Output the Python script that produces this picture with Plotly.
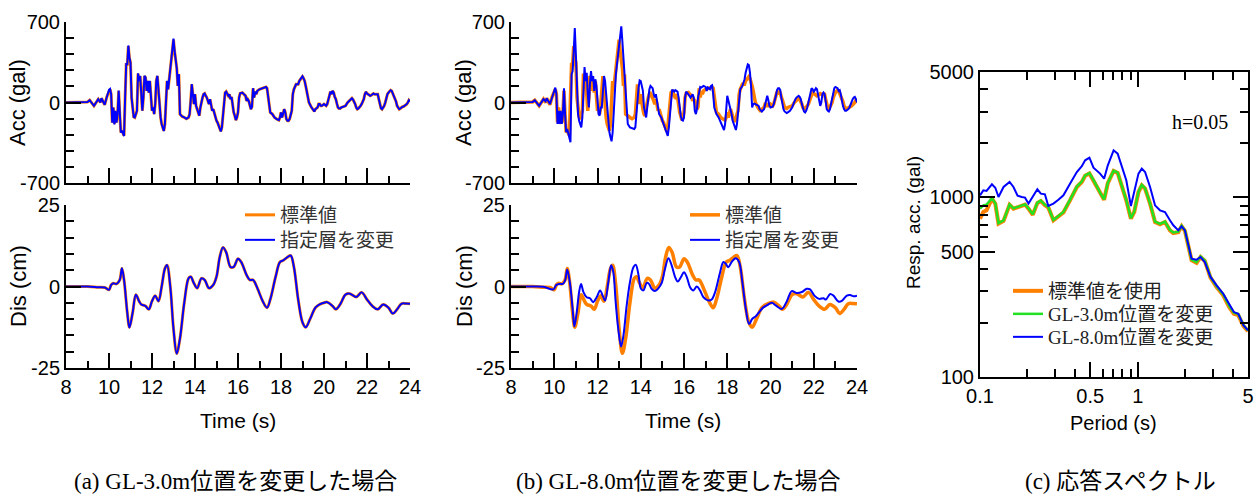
import plotly.graph_objects as go

# ---------------- time histories: (time s, value) ----------------
# standard-parameter acceleration (gal)
std_acc = [(8.0,0),(8.5,0),(9.0,5),(9.1,20),(9.3,-29),(9.5,29),(9.6,0),(9.65,37),(9.8,-20),(9.9,49),
 (10.0,107),(10.05,115),(10.1,72),(10.15,-173),(10.2,-43),(10.25,-187),(10.3,-72),(10.35,-173),(10.4,-101),(10.45,101),
 (10.5,-101),(10.55,-259),(10.6,-245),(10.65,-274),(10.7,-288),(10.75,43),(10.8,331),(10.85,331),(10.9,490),(10.95,389),
 (11.0,346),(11.05,43),(11.1,-72),(11.15,-124),(11.2,-130),(11.3,-72),(11.35,251),(11.4,187),(11.45,230),(11.5,101),
 (11.55,-72),(11.6,43),(11.65,230),(11.7,216),(11.75,101),(11.8,187),(11.85,86),(11.9,187),(11.95,14),(12.0,-72),
 (12.05,-43),(12.1,-101),(12.15,-14),(12.2,187),(12.25,230),(12.3,101),(12.35,-43),(12.4,-130),(12.45,-187),(12.5,-216),
 (12.55,-245),(12.6,-187),(12.65,14),(12.7,187),(12.75,115),(12.8,202),(12.85,245),(12.9,331),(12.95,418),(13.0,547),
 (13.05,446),(13.1,360),(13.15,302),(13.2,144),(13.25,245),(13.3,-101),(13.4,-121),(13.5,-130),(13.6,-141),(13.7,-130),
 (13.75,-101),(13.8,14),(13.85,158),(13.9,72),(13.95,-14),(14.0,72),(14.05,-29),(14.1,-58),(14.15,-101),(14.2,-115),
 (14.25,-43),(14.3,14),(14.35,43),(14.4,72),(14.45,78),(14.5,58),(14.55,43),(14.6,14),(14.65,-14),(14.7,29),
 (14.75,-14),(14.8,-72),(14.85,-58),(14.9,-101),(14.95,-130),(15.0,-158),(15.05,-173),(15.1,-202),(15.15,-230),(15.2,-250),
 (15.25,-216),(15.3,-101),(15.35,29),(15.4,86),(15.45,95),(15.5,72),(15.55,58),(15.6,72),(15.65,29),(15.7,49),
 (15.75,-43),(15.8,-86),(15.85,-115),(15.9,-153),(15.95,-130),(16.0,-85),(16.05,43),(16.1,80),(16.2,86),(16.3,72),
 (16.35,58),(16.4,14),(16.45,29),(16.5,14),(16.55,-14),(16.6,-58),(16.65,-37),(16.7,124),(16.75,43),(16.8,95),
 (16.85,72),(16.9,101),(17.0,115),(17.1,124),(17.2,130),(17.3,135),(17.35,124),(17.4,43),(17.45,-58),(17.5,-86),
 (17.6,-101),(17.7,-130),(17.8,-144),(17.9,-153),(17.95,-130),(18.0,-86),(18.05,-130),(18.1,-101),(18.15,-58),(18.2,-86),
 (18.25,-144),(18.3,-158),(18.35,-158),(18.4,-144),(18.45,-101),(18.5,-72),(18.55,72),(18.6,115),(18.7,158),(18.8,158),
 (18.85,187),(18.9,202),(18.95,216),(19.0,225),(19.05,210),(19.1,187),(19.15,144),(19.2,101),(19.25,58),(19.3,0),
 (19.4,-37),(19.5,-72),(19.55,-78),(19.6,-58),(19.7,-43),(19.75,-14),(19.8,-14),(19.85,-29),(19.9,-29),(20.0,-14),
 (20.1,-29),(20.15,-14),(20.2,14),(20.25,58),(20.3,95),(20.35,72),(20.4,101),(20.45,86),(20.5,49),(20.55,29),
 (20.6,-9),(20.65,-43),(20.7,-52),(20.75,-52),(20.8,-43),(20.9,-37),(21.0,-29),(21.1,0),(21.15,9),(21.2,20),
 (21.25,29),(21.3,37),(21.35,26),(21.4,9),(21.45,-14),(21.5,-43),(21.55,-58),(21.6,-52),(21.65,-43),(21.7,-29),
 (21.75,-14),(21.8,9),(21.85,29),(21.9,72),(21.95,92),(22.0,78),(22.05,72),(22.1,66),(22.15,58),(22.2,63),
 (22.25,72),(22.3,78),(22.35,72),(22.4,72),(22.45,78),(22.5,72),(22.55,29),(22.6,-14),(22.65,-49),(22.7,-58),
 (22.75,-43),(22.8,-29),(22.85,0),(22.9,43),(22.95,72),(23.0,86),(23.05,95),(23.1,107),(23.15,101),(23.2,78),
 (23.25,58),(23.3,43),(23.35,9),(23.4,-29),(23.45,-49),(23.5,-58),(23.55,-52),(23.6,-43),(23.65,-37),(23.7,-35),
 (23.75,-29),(23.8,-20),(23.85,-14),(23.9,0),(23.95,20),(24.0,9)]

# GL-3.0m layer changed: acceleration (gal)
a_acc = [(8.0,0),(8.5,0),(9.0,5),(9.1,20),(9.3,-29),(9.5,29),(9.6,0),(9.65,37),(9.8,-20),(9.9,49),
 (10.0,110),(10.05,118),(10.1,72),(10.15,-176),(10.2,-43),(10.25,-190),(10.3,-72),(10.35,-176),(10.4,-101),(10.45,104),
 (10.5,-101),(10.55,-262),(10.6,-245),(10.65,-277),(10.7,-292),(10.75,43),(10.8,334),(10.85,334),(10.9,496),(10.95,392),
 (11.0,346),(11.05,43),(11.1,-72),(11.15,-126),(11.2,-130),(11.3,-72),(11.35,254),(11.4,187),(11.45,233),(11.5,101),
 (11.55,-72),(11.6,43),(11.65,233),(11.7,218),(11.75,101),(11.8,189),(11.85,86),(11.9,189),(11.95,14),(12.0,-72),
 (12.05,-43),(12.1,-101),(12.15,-14),(12.2,189),(12.25,233),(12.3,101),(12.35,-43),(12.4,-130),(12.45,-189),(12.5,-218),
 (12.55,-248),(12.6,-189),(12.65,14),(12.7,189),(12.75,115),(12.8,204),(12.85,248),(12.9,334),(12.95,422),(13.0,556),
 (13.05,450),(13.1,362),(13.15,302),(13.2,144),(13.25,248),(13.3,-101),(13.4,-121),(13.5,-130),(13.6,-141),(13.7,-130),
 (13.75,-101),(13.8,14),(13.85,160),(13.9,72),(13.95,-14),(14.0,72),(14.05,-29),(14.1,-58),(14.15,-101),(14.2,-115),
 (14.25,-43),(14.3,14),(14.35,43),(14.4,72),(14.45,78),(14.5,58),(14.55,43),(14.6,14),(14.65,-14),(14.7,29),
 (14.75,-14),(14.8,-72),(14.85,-58),(14.9,-101),(14.95,-130),(15.0,-158),(15.05,-176),(15.1,-204),(15.15,-233),(15.2,-252),
 (15.25,-218),(15.3,-101),(15.35,29),(15.4,86),(15.45,95),(15.5,72),(15.55,58),(15.6,72),(15.65,29),(15.7,49),
 (15.75,-43),(15.8,-86),(15.85,-115),(15.9,-153),(15.95,-130),(16.0,-85),(16.05,43),(16.1,80),(16.2,86),(16.3,72),
 (16.35,58),(16.4,14),(16.45,29),(16.5,14),(16.55,-14),(16.6,-58),(16.65,-37),(16.7,124),(16.75,43),(16.8,95),
 (16.85,72),(16.9,101),(17.0,115),(17.1,124),(17.2,130),(17.3,135),(17.35,124),(17.4,43),(17.45,-58),(17.5,-86),
 (17.6,-101),(17.7,-130),(17.8,-144),(17.9,-153),(17.95,-130),(18.0,-86),(18.05,-130),(18.1,-101),(18.15,-58),(18.2,-86),
 (18.25,-144),(18.3,-158),(18.35,-158),(18.4,-144),(18.45,-101),(18.5,-72),(18.55,72),(18.6,115),(18.7,158),(18.8,158),
 (18.85,187),(18.9,202),(18.95,216),(19.0,228),(19.05,210),(19.1,187),(19.15,144),(19.2,101),(19.25,58),(19.3,0),
 (19.4,-37),(19.5,-72),(19.55,-78),(19.6,-58),(19.7,-43),(19.75,-14),(19.8,-14),(19.85,-29),(19.9,-29),(20.0,-14),
 (20.1,-29),(20.15,-14),(20.2,14),(20.25,58),(20.3,95),(20.35,72),(20.4,101),(20.45,86),(20.5,49),(20.55,29),
 (20.6,-9),(20.65,-43),(20.7,-52),(20.75,-52),(20.8,-43),(20.9,-37),(21.0,-29),(21.1,0),(21.15,9),(21.2,20),
 (21.25,29),(21.3,37),(21.35,26),(21.4,9),(21.45,-14),(21.5,-43),(21.55,-58),(21.6,-52),(21.65,-43),(21.7,-29),
 (21.75,-14),(21.8,9),(21.85,29),(21.9,72),(21.95,92),(22.0,78),(22.05,72),(22.1,66),(22.15,58),(22.2,63),
 (22.25,72),(22.3,78),(22.35,72),(22.4,72),(22.45,78),(22.5,72),(22.55,29),(22.6,-14),(22.65,-49),(22.7,-58),
 (22.75,-43),(22.8,-29),(22.85,0),(22.9,43),(22.95,72),(23.0,86),(23.05,95),(23.1,107),(23.15,101),(23.2,78),
 (23.25,58),(23.3,43),(23.35,9),(23.4,-29),(23.45,-49),(23.5,-58),(23.55,-52),(23.6,-43),(23.65,-37),(23.7,-35),
 (23.75,-29),(23.8,-20),(23.85,-14),(23.9,0),(23.95,20),(24.0,9)]

# GL-8.0m layer changed: acceleration (gal)
b_acc = [(8.0,0),(8.5,0),(9.0,5),(9.1,20),(9.3,-29),(9.5,29),(9.6,9),(9.65,37),(9.8,-14),(9.9,43),
 (10.0,115),(10.05,130),(10.1,72),(10.15,-187),(10.2,-72),(10.25,-187),(10.3,-72),(10.35,-187),(10.4,-101),(10.45,124),
 (10.5,-101),(10.55,-259),(10.6,-230),(10.65,-274),(10.7,-317),(10.75,-346),(10.8,245),(10.85,274),(10.9,446),(10.95,648),
 (11.0,418),(11.05,101),(11.1,-101),(11.15,-158),(11.2,-187),(11.25,-216),(11.3,-130),(11.35,72),(11.4,308),(11.45,187),
 (11.5,259),(11.55,72),(11.6,-43),(11.65,158),(11.7,274),(11.75,187),(11.8,230),(11.85,101),(11.9,202),(11.95,144),
 (12.0,-43),(12.05,-101),(12.1,-115),(12.15,-43),(12.2,-43),(12.25,101),(12.3,230),(12.35,187),(12.4,72),(12.45,-101),
 (12.5,-187),(12.55,-259),(12.6,-302),(12.65,-337),(12.7,-259),(12.75,-72),(12.8,187),(12.85,245),(12.9,331),(12.95,418),
 (13.0,475),(13.05,590),(13.1,662),(13.15,533),(13.2,389),(13.25,274),(13.3,43),(13.35,-101),(13.4,-187),(13.5,-216),
 (13.6,-222),(13.7,-230),(13.75,-216),(13.8,-101),(13.85,72),(13.9,130),(13.95,193),(14.0,187),(14.05,144),(14.1,101),
 (14.15,-43),(14.2,-101),(14.25,-130),(14.3,-43),(14.35,43),(14.4,115),(14.45,144),(14.5,135),(14.55,124),(14.6,72),
 (14.65,43),(14.7,72),(14.75,14),(14.8,-43),(14.85,-101),(14.9,-115),(14.95,-130),(15.0,-158),(15.05,-187),(15.1,-216),
 (15.15,-245),(15.2,-274),(15.25,-291),(15.3,-216),(15.35,-101),(15.4,43),(15.45,107),(15.5,107),(15.55,95),(15.6,107),
 (15.65,101),(15.7,95),(15.75,43),(15.8,-72),(15.85,-115),(15.9,-153),(15.95,-158),(16.0,-130),(16.05,43),(16.1,95),
 (16.15,86),(16.2,72),(16.3,43),(16.35,58),(16.4,72),(16.45,43),(16.5,-72),(16.55,-101),(16.6,-58),(16.65,43),
 (16.7,101),(16.75,135),(16.8,130),(16.9,144),(17.0,135),(17.05,101),(17.1,130),(17.2,115),(17.25,144),(17.3,150),
 (17.35,72),(17.4,-43),(17.45,-72),(17.5,-101),(17.6,-130),(17.7,-173),(17.8,-230),(17.85,-239),(17.9,-187),(17.95,-43),
 (18.0,58),(18.05,20),(18.1,-14),(18.15,-58),(18.2,-101),(18.25,-158),(18.3,-187),(18.35,-230),(18.4,-239),(18.45,-187),
 (18.5,-72),(18.55,43),(18.6,115),(18.7,144),(18.75,173),(18.8,202),(18.85,259),(18.9,302),(18.95,331),(19.0,325),
 (19.05,259),(19.1,144),(19.15,-43),(19.2,-14),(19.25,-9),(19.3,-14),(19.4,-20),(19.45,-29),(19.5,-58),(19.55,-72),
 (19.6,-78),(19.7,-58),(19.75,-14),(19.8,0),(19.85,58),(19.9,20),(19.95,-29),(20.0,-43),(20.05,-43),(20.1,-37),
 (20.15,-14),(20.2,14),(20.25,58),(20.3,107),(20.35,124),(20.4,124),(20.45,107),(20.5,43),(20.55,-14),(20.6,-58),
 (20.65,-78),(20.7,-86),(20.75,-92),(20.8,-86),(20.9,-72),(21.0,-43),(21.05,-14),(21.1,14),(21.15,29),(21.2,43),
 (21.3,58),(21.35,49),(21.4,29),(21.45,-14),(21.5,-58),(21.55,-78),(21.6,-86),(21.65,-72),(21.7,-43),(21.75,0),
 (21.8,58),(21.85,107),(21.9,124),(21.95,115),(22.0,95),(22.05,107),(22.1,124),(22.15,115),(22.2,72),(22.25,14),
 (22.3,-29),(22.35,0),(22.4,72),(22.45,86),(22.5,72),(22.55,14),(22.6,-58),(22.65,-72),(22.7,-78),(22.75,-58),
 (22.8,-14),(22.85,43),(22.9,95),(22.95,124),(23.0,135),(23.05,130),(23.1,124),(23.15,101),(23.2,107),(23.25,72),
 (23.3,14),(23.35,-29),(23.4,-58),(23.45,-72),(23.5,-72),(23.55,-66),(23.6,-58),(23.65,-43),(23.7,-14),(23.75,9),
 (23.8,29),(23.85,43),(23.9,49),(23.95,29),(24.0,0)]

# displacement (cm)
std_dis = [(8.0,0),(9.0,0),(9.5,-0.2),(9.8,-0.3),(10.0,-1),(10.1,0.5),(10.2,1),(10.35,0.8),(10.5,2),(10.6,5.5),
 (10.7,2),(10.85,-8),(10.95,-12.5),(11.1,-8),(11.25,-2.5),(11.4,-4.5),(11.5,-5.5),(11.7,-6),(11.85,-7),(12.0,-4.5),
 (12.15,-2.8),(12.3,-4.5),(12.45,0),(12.6,5.5),(12.7,6.5),(12.85,0),(13.0,-13),(13.15,-20.5),(13.3,-16),(13.5,-5),
 (13.7,2.5),(13.8,3),(13.95,1),(14.1,-0.5),(14.3,2.5),(14.45,2),(14.65,-0.5),(14.85,0.5),(15.0,3),(15.15,9),
 (15.3,12),(15.45,10.5),(15.65,6),(15.8,6),(16.0,8.5),(16.15,7.5),(16.4,3.5),(16.55,2),(16.7,2),(16.9,-0.5),
 (17.15,-4.5),(17.35,-6.5),(17.5,-4),(17.75,3),(17.95,7.5),(18.1,8),(18.3,9),(18.45,9.5),(18.6,6),(18.8,-4),
 (19.0,-11),(19.15,-12.5),(19.35,-10),(19.6,-6.5),(19.8,-5.5),(20.0,-5),(20.15,-4.8),(20.4,-6),(20.55,-7),(20.75,-5.5),
 (21.0,-2.5),(21.2,-2.2),(21.5,-3.2),(21.75,-1.8),(22.0,-4),(22.25,-6),(22.5,-7),(22.75,-5.5),(23.0,-6.5),(23.2,-8.3),
 (23.4,-7),(23.6,-5.3),(23.8,-5.2),(24.0,-5.3)]

a_dis = [(8.0,0),(9.0,0),(9.5,-0.2),(9.8,-0.3),(10.0,-1),(10.1,0.5),(10.2,1),(10.35,0.8),(10.5,2),(10.6,5.6),
 (10.7,2),(10.85,-8),(10.95,-12.6),(11.1,-8),(11.25,-2.5),(11.4,-4.5),(11.5,-5.5),(11.7,-6),(11.85,-7),(12.0,-4.5),
 (12.15,-2.8),(12.3,-4.5),(12.45,0),(12.6,5.5),(12.7,6.6),(12.85,0),(13.0,-13),(13.15,-20.6),(13.3,-16),(13.5,-5),
 (13.7,2.5),(13.8,3),(13.95,1),(14.1,-0.5),(14.3,2.5),(14.45,2),(14.65,-0.5),(14.85,0.5),(15.0,3),(15.15,9),
 (15.3,12),(15.45,10.5),(15.65,6),(15.8,6),(16.0,8.5),(16.15,7.5),(16.4,3.5),(16.55,2),(16.7,2),(16.9,-0.5),
 (17.15,-4.5),(17.35,-6.5),(17.5,-4),(17.75,3),(17.95,7.5),(18.1,8),(18.3,9),(18.45,9.5),(18.6,6),(18.8,-4),
 (19.0,-11),(19.15,-12.5),(19.35,-10),(19.6,-6.5),(19.8,-5.5),(20.0,-5),(20.15,-4.8),(20.4,-6),(20.55,-7),(20.75,-5.5),
 (21.0,-2.5),(21.2,-2.2),(21.5,-3.2),(21.75,-1.8),(22.0,-4),(22.25,-6),(22.5,-7),(22.75,-5.5),(23.0,-6.5),(23.2,-8.3),
 (23.4,-7),(23.6,-5.3),(23.8,-5.2),(24.0,-5.3)]

b_dis = [(8.0,0),(9.0,0),(9.5,-0.1),(9.96,-0.9),(10.1,0.5),(10.25,0.8),(10.4,0.8),(10.5,1.8),(10.6,5.2),(10.72,1.3),
 (10.85,-6.9),(10.93,-12.2),(11.04,-7.9),(11.15,-1.7),(11.24,0.8),(11.35,-1.7),(11.5,-3.3),(11.65,-3.6),(11.8,-4.8),(11.96,-3.3),
 (12.12,-1.2),(12.24,-2.8),(12.35,-4.3),(12.5,1.3),(12.63,6.5),(12.73,4.4),(12.84,-4.8),(12.96,-13),(13.09,-18.4),(13.2,-15),
 (13.35,-5.8),(13.5,1.3),(13.66,5.9),(13.77,6.7),(13.9,3.4),(14.01,-0.7),(14.12,-1.2),(14.28,1.1),(14.38,0.8),(14.5,-0.7),
 (14.66,-1.4),(14.82,-0.5),(14.97,1.1),(15.12,5.4),(15.28,8.7),(15.43,6.5),(15.59,2.9),(15.71,1.5),(15.86,2.9),(16.0,4.4),
 (16.13,2.9),(16.28,-0.2),(16.43,-1.2),(16.59,0),(16.74,-1.2),(16.9,-3.3),(17.13,-4.3),(17.28,-4.0),(17.44,-1.7),(17.67,4.4),
 (17.82,7.5),(17.93,7.0),(18.05,5.9),(18.2,7.5),(18.39,8.7),(18.55,7.5),(18.7,1.3),(18.86,-6.9),(19.01,-11.5),(19.16,-9.9),
 (19.32,-9.1),(19.47,-7.9),(19.67,-6.4),(19.83,-5.8),(20.06,-5.0),(20.24,-5.8),(20.52,-6.9),(20.75,-4.6),(20.98,-1.4),(21.2,-2.0),
 (21.45,-1.7),(21.68,-0.7),(21.83,-0.9),(22.03,-2.8),(22.25,-3.8),(22.45,-3.6),(22.56,-4.0),(22.76,-2.3),(22.91,-2.8),(23.14,-4.6),
 (23.3,-4.4),(23.53,-2.8),(23.68,-2.6),(23.84,-3.0),(24.0,-2.8)]

# ---------------- response spectra (h=0.05) ----------------
periods = [0.100,0.105,0.110,0.119,0.125,0.131,0.141,0.154,0.163,0.173,
           0.184,0.193,0.203,0.216,0.231,0.243,0.258,0.271,0.292,0.314,
           0.338,0.372,0.411,0.442,0.464,0.494,0.524,0.577,0.612,0.646,
           0.703,0.746,0.795,0.846,0.905,0.950,1.011,1.061,1.113,1.197,
           1.287,1.384,1.488,1.600,1.681,1.807,1.897,1.991,2.194,2.359,
           2.500,2.662,2.892,3.161,3.483,3.805,4.069,4.337,4.685,5.000]
sa_std = [762,830,848,985,924,715,740,910,866,880,
          895,912,866,800,930,956,905,880,746,785,
          825,964,1144,1220,1320,1360,1247,1060,972,1200,
          1405,1369,1144,964,762,830,1073,1169,1120,924,
          730,709,730,656,634,641,691,652,447,432,
          466,443,358,317,285,245,225,221,192,180]
sa_gl3 = [866,904,912,990,930,720,745,915,870,885,
          900,915,870,805,935,960,910,885,750,790,
          830,970,1150,1226,1326,1366,1252,1065,976,1205,
          1410,1374,1150,968,766,834,1078,1175,1125,928,
          734,712,734,660,638,645,695,656,450,436,
          470,446,361,320,288,248,228,224,194,182]
sa_gl8 = [1028,1096,1088,1184,1134,1006,1144,1220,1144,1024,
          1006,998,924,1006,1110,1050,1041,897,924,972,
          1028,1194,1387,1492,1611,1667,1466,1358,1273,1511,
          1832,1755,1479,1247,897,1096,1358,1447,1387,1144,
          904,848,830,746,700,656,691,656,456,450,
          466,437,361,324,291,254,230,225,194,182]

ORANGE = "#ff8000"
BLUE = "#0000ff"
GREEN = "#22e022"

W, H = 1259, 496


def fx(p):
    return p / W


def fy(p):
    return 1 - p / H


def xs(pts):
    return [p[0] for p in pts]


def ys(pts):
    return [p[1] for p in pts]


SANS = "Liberation Sans, Arial, sans-serif"
SERIF = "Liberation Serif, Times New Roman, Noto Sans CJK JP, serif"
JP = "Noto Sans CJK JP, sans-serif"

fig = go.Figure()


def line(pts, color, width, xa, ya, name, legend=None, shape="linear"):
    fig.add_trace(go.Scatter(
        x=xs(pts), y=ys(pts), mode="lines", name=name,
        line=dict(color=color, width=width, shape=shape),
        xaxis=xa, yaxis=ya, showlegend=legend is not None,
        legend=legend or "legend", hoverinfo="skip"))


# (a) GL-3.0m
line(std_acc, ORANGE, 3, "x", "y", "標準値")
line(a_acc, BLUE, 2, "x", "y", "指定層を変更")
line(std_dis, ORANGE, 3, "x2", "y2", "標準値", "legend", "spline")
line(a_dis, BLUE, 2, "x2", "y2", "指定層を変更", "legend2", "spline")
# (b) GL-8.0m
line(std_acc, ORANGE, 3.5, "x3", "y3", "標準値")
line(b_acc, BLUE, 2, "x3", "y3", "指定層を変更")
line(std_dis, ORANGE, 3.5, "x4", "y4", "標準値", "legend3", "spline")
line(b_dis, BLUE, 2, "x4", "y4", "指定層を変更", "legend4", "spline")
# (c) spectra
fig.add_trace(go.Scatter(x=periods, y=sa_std, mode="lines", name="標準値を使用",
                         line=dict(color=ORANGE, width=4), xaxis="x5", yaxis="y5",
                         legend="legend5", hoverinfo="skip"))
fig.add_trace(go.Scatter(x=periods, y=sa_gl3, mode="lines", name="GL-3.0m位置を変更",
                         line=dict(color=GREEN, width=2.5), xaxis="x5", yaxis="y5",
                         legend="legend6", hoverinfo="skip"))
fig.add_trace(go.Scatter(x=periods, y=sa_gl8, mode="lines", name="GL-8.0m位置を変更",
                         line=dict(color=BLUE, width=2), xaxis="x5", yaxis="y5",
                         legend="legend7", hoverinfo="skip"))

tick_font = dict(family=SANS, size=20, color="black")


def time_axis(domain, anchor, labels):
    return dict(domain=domain, anchor=anchor, range=[8, 24], tick0=8, dtick=2,
                ticks="inside", ticklen=15, tickwidth=2, tickcolor="black",
                showticklabels=labels, tickfont=tick_font, automargin=False,
                showline=True, linecolor="black", linewidth=2,
                showgrid=False, zeroline=False,
                minor=dict(tickmode="linear", tick0=8, dtick=1, ticks="inside",
                           ticklen=7, tickwidth=2, tickcolor="black"))


def val_axis(domain, anchor, lim, step):
    return dict(domain=domain, anchor=anchor, range=[-lim, lim],
                tickmode="array", tickvals=[-lim, 0, lim],
                ticktext=["-%d" % lim, "0", "%d" % lim], automargin=False,
                ticks="inside", ticklen=15, tickwidth=2, tickcolor="black",
                tickfont=tick_font, showline=True, linecolor="black", linewidth=2,
                showgrid=False, zeroline=False,
                minor=dict(tickmode="linear", tick0=0, dtick=step, ticks="inside",
                           ticklen=8, tickwidth=2, tickcolor="black"))


xa_dom = [fx(66), fx(410)]
xb_dom = [fx(511), fx(857)]
acc_dom = [fy(183), fy(22)]
dis_dom = [fy(368), fy(205)]

layout = dict(
    width=W, height=H, margin=dict(l=0, r=0, t=0, b=0, autoexpand=False),
    paper_bgcolor="white", plot_bgcolor="white",
    xaxis=time_axis(xa_dom, "y", False),
    yaxis=val_axis(acc_dom, "x", 700, 140),
    xaxis2=time_axis(xa_dom, "y2", True),
    yaxis2=val_axis(dis_dom, "x2", 25, 5),
    xaxis3=time_axis(xb_dom, "y3", False),
    yaxis3=val_axis(acc_dom, "x3", 700, 140),
    xaxis4=time_axis(xb_dom, "y4", True),
    yaxis4=val_axis(dis_dom, "x4", 25, 5),
    xaxis5=dict(domain=[fx(980), fx(1248)], anchor="y5", type="log",
                range=[-1, 0.69897], tickmode="array",
                tickvals=[0.1, 0.5, 1, 5], ticktext=["0.1", "0.5", "1", "5"],
                ticks="inside", ticklen=15, tickwidth=2, tickcolor="black",
                tickfont=tick_font, showline=True, mirror="ticks", automargin=False,
                linecolor="black", linewidth=2, showgrid=False, zeroline=False,
                minor=dict(tickmode="array",
                           tickvals=[0.2, 0.3, 0.4, 0.6, 0.7, 0.8, 0.9, 2, 3, 4],
                           ticks="inside", ticklen=8, tickwidth=2, tickcolor="black")),
    yaxis5=dict(domain=[fy(377), fy(72)], anchor="x5", type="log",
                range=[2, 3.69897], tickmode="array",
                tickvals=[100, 500, 1000, 5000],
                ticktext=["100", "500", "1000", "5000"], automargin=False,
                ticks="inside", ticklen=15, tickwidth=2, tickcolor="black",
                tickfont=tick_font, showline=True, mirror="ticks",
                linecolor="black", linewidth=2, showgrid=False, zeroline=False,
                minor=dict(tickmode="array",
                           tickvals=[200, 300, 400, 600, 700, 800, 900, 2000, 3000, 4000],
                           ticks="inside", ticklen=8, tickwidth=2, tickcolor="black")),
)


def legend_at(text_x, row_y, font):
    return dict(x=fx(text_x - 40), y=fy(row_y), xanchor="left", yanchor="middle",
                xref="container", yref="container",
                bgcolor="rgba(0,0,0,0)", borderwidth=0, font=font,
                itemclick=False, itemdoubleclick=False)


leg_font = dict(family=JP, size=19, color="#333333")
leg_font_c = dict(family=SERIF, size=19, color="#222222")
layout["legend"] = legend_at(280, 215, leg_font)
layout["legend2"] = legend_at(280, 240, leg_font)
layout["legend3"] = legend_at(725, 215, leg_font)
layout["legend4"] = legend_at(725, 240, leg_font)
layout["legend5"] = legend_at(1048, 291, leg_font_c)
layout["legend6"] = legend_at(1048, 314, leg_font_c)
layout["legend7"] = legend_at(1048, 337, leg_font_c)

fig.update_layout(**layout)


def label(text, x, y, size, family=SANS, angle=0):
    fig.add_annotation(text=text, x=fx(x), y=fy(y), xref="paper", yref="paper",
                       xanchor="center", yanchor="middle", showarrow=False,
                       textangle=angle, font=dict(family=family, size=size, color="black"))


label("Acc (gal)", 18, 103, 22, angle=-90)
label("Dis (cm)", 18, 286, 22, angle=-90)
label("Acc (gal)", 464, 103, 22, angle=-90)
label("Dis (cm)", 464, 286, 22, angle=-90)
label("Time (s)", 238, 420, 21)
label("Time (s)", 683, 420, 21)
label("Resp. acc. (gal)", 913, 223, 19, angle=-90)
label("Period (s)", 1113, 423, 20)
label("h=0.05", 1200, 122, 20, family=SERIF)
label("(a) GL-3.0m位置を変更した場合", 235, 481, 23, family=SERIF)
label("(b) GL-8.0m位置を変更した場合", 678, 481, 23, family=SERIF)
label("(c) 応答スペクトル", 1120, 481, 23, family=SERIF)

fig.write_html("out.html")
